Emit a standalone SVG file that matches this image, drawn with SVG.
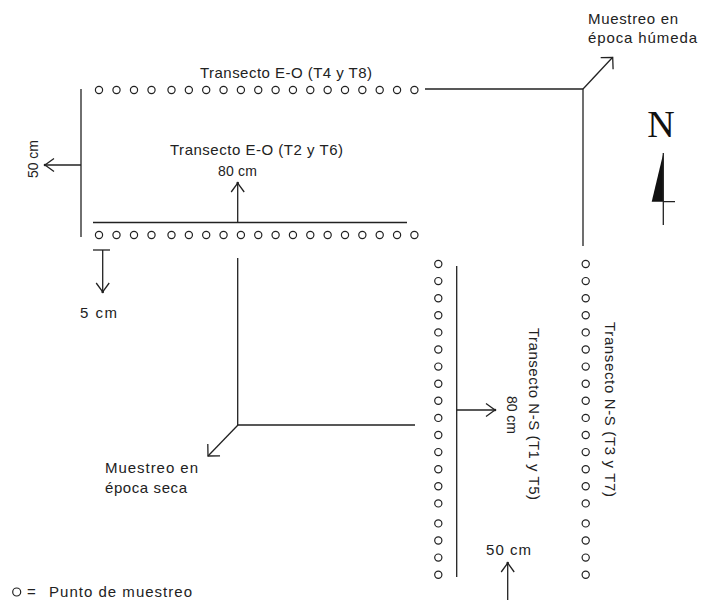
<svg xmlns="http://www.w3.org/2000/svg" width="701" height="600" viewBox="0 0 701 600">
<style>
.ln{fill:none;stroke:#222;stroke-width:1.3}
.pt{fill:none;stroke:#222;stroke-width:1.2}
.t{font-family:"Liberation Sans",Arial,sans-serif;font-size:15px;fill:#222}
.s{font-size:14px}
</style>
<defs>
<marker id="arr" markerUnits="userSpaceOnUse" markerWidth="20" markerHeight="20" viewBox="-10 -10 20 20" refX="0" refY="0" orient="auto">
<path d="M-9,-6.5 L0,0 L-9,6.5" fill="none" stroke="#222" stroke-width="1.3"/>
<circle cx="0" cy="0" r="1.3" fill="#222"/>
</marker>
<marker id="arrd" markerUnits="userSpaceOnUse" markerWidth="24" markerHeight="24" viewBox="-12 -12 24 24" refX="0" refY="0" orient="auto">
<path d="M-8.5,-8.5 L0,0 L-8.5,8.5" fill="none" stroke="#222" stroke-width="1.3"/>
</marker>
<circle id="c" r="3.6" class="pt"/>
</defs>

<g id="connectors">
<path class="ln" d="M81,89 V237"/>
<path class="ln" d="M81,165 H45" marker-end="url(#arr)"/>
<path class="ln" d="M425,89 H583 V246"/>
<path class="ln" d="M583,89 L612.7,57.3" marker-end="url(#arrd)"/>
<path class="ln" d="M93,222.5 H407"/>
<path class="ln" d="M237.7,222.5 V183" marker-end="url(#arr)"/>
<path class="ln" d="M93,250 H110"/>
<path class="ln" d="M102.7,250 V292" marker-end="url(#arr)"/>
<path class="ln" d="M237.7,258 V425 H415"/>
<path class="ln" d="M238,425 L208,456" marker-end="url(#arrd)"/>
<path class="ln" d="M456.7,266 V577"/>
<path class="ln" d="M456.7,410 H495" marker-end="url(#arr)"/>
<path class="ln" d="M507.7,600 V563" marker-end="url(#arr)"/>
</g>

<g id="row-top">
<use href="#c" x="99" y="90"/><use href="#c" x="116.5" y="90"/><use href="#c" x="134" y="90"/><use href="#c" x="151.5" y="90"/>
<use href="#c" x="171.5" y="90"/><use href="#c" x="188.85" y="90"/><use href="#c" x="206.2" y="90"/><use href="#c" x="223.55" y="90"/><use href="#c" x="240.9" y="90"/><use href="#c" x="258.25" y="90"/><use href="#c" x="275.6" y="90"/><use href="#c" x="292.95" y="90"/><use href="#c" x="310.3" y="90"/><use href="#c" x="327.65" y="90"/><use href="#c" x="345" y="90"/><use href="#c" x="362.35" y="90"/><use href="#c" x="379.7" y="90"/><use href="#c" x="397.05" y="90"/><use href="#c" x="414.4" y="90"/>
<text class="t" x="200" y="78" textLength="172" lengthAdjust="spacing">Transecto E-O (T4 y T8)</text>
</g>

<g id="row-bottom">
<use href="#c" x="99" y="235"/><use href="#c" x="116.5" y="235"/><use href="#c" x="134" y="235"/><use href="#c" x="151.5" y="235"/>
<use href="#c" x="171.5" y="235"/><use href="#c" x="188.85" y="235"/><use href="#c" x="206.2" y="235"/><use href="#c" x="223.55" y="235"/><use href="#c" x="240.9" y="235"/><use href="#c" x="258.25" y="235"/><use href="#c" x="275.6" y="235"/><use href="#c" x="292.95" y="235"/><use href="#c" x="310.3" y="235"/><use href="#c" x="327.65" y="235"/><use href="#c" x="345" y="235"/><use href="#c" x="362.35" y="235"/><use href="#c" x="379.7" y="235"/><use href="#c" x="397.05" y="235"/><use href="#c" x="414.4" y="235"/>
<text class="t" x="170" y="155" textLength="173" lengthAdjust="spacing">Transecto E-O (T2 y T6)</text>
<text class="t s" x="218" y="176" textLength="39" lengthAdjust="spacing">80 cm</text>
</g>

<g id="col-left">
<use href="#c" x="438.3" y="264"/><use href="#c" x="438.3" y="281.1"/><use href="#c" x="438.3" y="298.2"/><use href="#c" x="438.3" y="315.3"/><use href="#c" x="438.3" y="332.4"/><use href="#c" x="438.3" y="349.5"/><use href="#c" x="438.3" y="366.6"/><use href="#c" x="438.3" y="383.7"/><use href="#c" x="438.3" y="400.8"/><use href="#c" x="438.3" y="417.9"/><use href="#c" x="438.3" y="435"/><use href="#c" x="438.3" y="452.1"/><use href="#c" x="438.3" y="469.2"/><use href="#c" x="438.3" y="486.3"/><use href="#c" x="438.3" y="503.4"/><use href="#c" x="438.3" y="523.4"/><use href="#c" x="438.3" y="540.5"/><use href="#c" x="438.3" y="557.6"/><use href="#c" x="438.3" y="574.7"/>
<text class="t" transform="translate(529,328) rotate(90)" textLength="172" lengthAdjust="spacing">Transecto N-S (T1 y T5)</text>
<text class="t s" transform="translate(507,396) rotate(90)" textLength="38" lengthAdjust="spacing">80 cm</text>
</g>

<g id="col-right">
<use href="#c" x="585.7" y="264"/><use href="#c" x="585.7" y="281.1"/><use href="#c" x="585.7" y="298.2"/><use href="#c" x="585.7" y="315.3"/><use href="#c" x="585.7" y="332.4"/><use href="#c" x="585.7" y="349.5"/><use href="#c" x="585.7" y="366.6"/><use href="#c" x="585.7" y="383.7"/><use href="#c" x="585.7" y="400.8"/><use href="#c" x="585.7" y="417.9"/><use href="#c" x="585.7" y="435"/><use href="#c" x="585.7" y="452.1"/><use href="#c" x="585.7" y="469.2"/><use href="#c" x="585.7" y="486.3"/><use href="#c" x="585.7" y="503.4"/><use href="#c" x="585.7" y="523.4"/><use href="#c" x="585.7" y="540.5"/><use href="#c" x="585.7" y="557.6"/><use href="#c" x="585.7" y="574.7"/>
<text class="t" transform="translate(605,322) rotate(90)" textLength="175" lengthAdjust="spacing">Transecto N-S (T3 y T7)</text>
</g>

<g id="labels">
<text class="t s" transform="translate(38,178) rotate(-90)" textLength="38" lengthAdjust="spacing">50 cm</text>
<text class="t" x="80" y="318" textLength="37" lengthAdjust="spacing">5 cm</text>
<text class="t" x="105" y="473" textLength="93" lengthAdjust="spacing">Muestreo en</text>
<text class="t" x="105" y="493" textLength="82" lengthAdjust="spacing">época seca</text>
<text class="t" x="588" y="24" textLength="90" lengthAdjust="spacing">Muestreo en</text>
<text class="t" x="588" y="43" textLength="109" lengthAdjust="spacing">época húmeda</text>
<text class="t" x="486" y="555" textLength="45" lengthAdjust="spacing">50 cm</text>
</g>

<g id="north">
<text x="661" y="137" text-anchor="middle" style="font-family:'Liberation Serif','Times New Roman',serif;font-size:38px;fill:#111">N</text>
<polygon points="663.3,153.3 651.7,201.7 663.3,201.7" fill="#111"/>
<path class="ln" d="M663.3,153 V225 M663.3,201.7 H675"/>
</g>

<g id="legend">
<circle cx="16.7" cy="592" r="4" class="pt"/>
<text class="t" x="27" y="597">=</text>
<text class="t" x="49" y="597" textLength="143" lengthAdjust="spacing">Punto de muestreo</text>
</g>
</svg>
